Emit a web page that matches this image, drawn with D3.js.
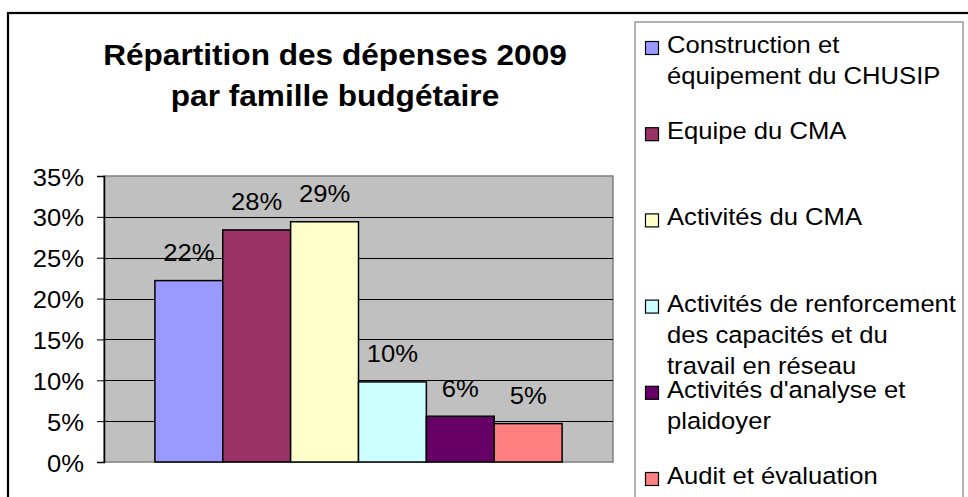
<!DOCTYPE html>
<html>
<head>
<meta charset="utf-8">
<script src="https://cdn.jsdelivr.net/npm/d3@7"></script>
<style>
  body { margin: 0; background: #fff; }
  text { font-family: "Liberation Sans", Arial, sans-serif; fill: #000; }
</style>
</head>
<body>
<div id="chart"></div>
<script>
// series (one bar each, single category)
var seriesNames = ["Construction et équipement du CHUSIP", "Equipe du CMA", "Activités du CMA",
    "Activités de renforcement des capacités et du travail en réseau",
    "Activités d'analyse et plaidoyer", "Audit et évaluation"];
var legendLines = [
    ["Construction et", "équipement du CHUSIP"],
    ["Equipe du CMA"],
    ["Activités du CMA"],
    ["Activités de renforcement", "des capacités et du", "travail en réseau"],
    ["Activités d'analyse et", "plaidoyer"],
    ["Audit et évaluation"]
];
var shares = [0.222, 0.284, 0.294, 0.098, 0.056, 0.047];
var barColors = ["#9999ff", "#993366", "#ffffcc", "#ccffff", "#660066", "#ff8080"];
var yTicks = [0, 0.05, 0.10, 0.15, 0.20, 0.25, 0.30, 0.35];
var titleLines = ["Répartition des dépenses 2009", "par famille budgétaire"];

var W = 968, H = 497;
var stretch = 1.09; // text in the picture is a bit wider than plain Arial

var plot = {left: 104, right: 613, top: 176, bottom: 462};
var plotW = plot.right - plot.left;

var svg = d3.select("#chart").append("svg")
    .attr("width", W)
    .attr("height", H);

function place(sel, x, y) {
    return sel.attr("transform", "translate(" + x + "," + y + ") scale(" + stretch + ",1)");
}

// outer chart frame (goes past the right and bottom edges)
svg.append("rect")
    .attr("x", 8).attr("y", 13)
    .attr("width", 970).attr("height", 500)
    .attr("fill", "#fff")
    .attr("stroke", "#000")
    .attr("stroke-width", 2.2);

// title
titleLines.forEach(function (t, i) {
    place(svg.append("text"), 335, 65 + i * 41)
        .attr("text-anchor", "middle")
        .attr("font-weight", "bold")
        .attr("font-size", 29)
        .text(t);
});

// scales: gap width 150% around the group of six bars
var barW = plotW / (seriesNames.length + 1.5);
var x = d3.scaleBand()
    .domain(seriesNames)
    .range([plot.left + barW * 0.75, plot.right - barW * 0.75])
    .padding(0);

var y = d3.scaleLinear().domain([0, 0.35]).range([plot.bottom, plot.top]);

// plot area
svg.append("rect")
    .attr("x", plot.left).attr("y", plot.top)
    .attr("width", plotW).attr("height", plot.bottom - plot.top)
    .attr("fill", "#c0c0c0")
    .attr("stroke", "#808080")
    .attr("stroke-width", 1.5);

svg.append("g").selectAll("line")
    .data(yTicks.slice(1, -1))
    .join("line")
    .attr("x1", plot.left).attr("x2", plot.right)
    .attr("y1", function (d) { return Math.round(y(d)) + 0.5; })
    .attr("y2", function (d) { return Math.round(y(d)) + 0.5; })
    .attr("stroke", "#000")
    .attr("stroke-width", 1);

// y axis: line, ticks and labels
var fmt = d3.format(".0%");
var yAxis = d3.axisLeft(y).tickValues(yTicks).tickSize(7).tickFormat("");
var gAxis = svg.append("g")
    .attr("transform", "translate(" + plot.left + ",0)")
    .call(yAxis);
gAxis.select(".domain").attr("stroke", "#000").attr("stroke-width", 1.5);
gAxis.selectAll(".tick line").attr("stroke", "#000");

svg.append("g").selectAll("text")
    .data(yTicks)
    .join("text")
    .attr("text-anchor", "end")
    .attr("font-size", 23.5)
    .attr("transform", function (d) {
        return "translate(84," + (y(d) + 9.5) + ") scale(" + stretch + ",1)";
    })
    .text(function (d) { return fmt(d); });

// bars
svg.append("g").selectAll("rect")
    .data(shares)
    .join("rect")
    .attr("x", function (d, i) { return x(seriesNames[i]); })
    .attr("y", function (d) { return y(d); })
    .attr("width", x.bandwidth())
    .attr("height", function (d) { return y(0) - y(d); })
    .attr("fill", function (d, i) { return barColors[i]; })
    .attr("stroke", "#000")
    .attr("stroke-width", 1.5);

// data labels
svg.append("g").selectAll("text")
    .data(shares)
    .join("text")
    .attr("text-anchor", "middle")
    .attr("font-size", 23.5)
    .attr("transform", function (d, i) {
        var cx = x(seriesNames[i]) + x.bandwidth() / 2;
        return "translate(" + cx + "," + (y(d) - 19.5) + ") scale(" + stretch + ",1)";
    })
    .text(function (d) { return fmt(d); });

// legend
var lg = {left: 635, top: 22, first: 53, step: 86.2, line: 31};
svg.append("rect")
    .attr("x", lg.left).attr("y", lg.top)
    .attr("width", 328).attr("height", 500)
    .attr("fill", "#fff")
    .attr("stroke", "#808080")
    .attr("stroke-width", 1.2);

var items = svg.append("g").selectAll("g")
    .data(legendLines)
    .join("g")
    .attr("transform", function (d, i) { return "translate(0," + (lg.first + i * lg.step) + ")"; });

items.append("rect")
    .attr("x", 645.5).attr("y", -11.5)
    .attr("width", 13).attr("height", 13)
    .attr("fill", function (d, i) { return barColors[i]; })
    .attr("stroke", "#000")
    .attr("stroke-width", 1.2);

items.each(function (lines) {
    var g = d3.select(this);
    lines.forEach(function (t, j) {
        place(g.append("text"), 667, j * lg.line)
            .attr("font-size", 23.5)
            .text(t);
    });
});
</script>
</body>
</html>
